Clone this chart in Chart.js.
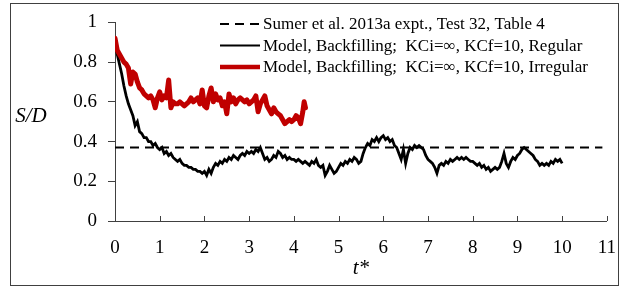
<!DOCTYPE html>
<html>
<head>
<meta charset="utf-8">
<script src="https://cdn.jsdelivr.net/npm/chart.js@4/dist/chart.umd.min.js"></script>
<style>
html,body{margin:0;padding:0;background:#fff;}
#wrap{width:624px;height:288px;position:relative;}
</style>
</head>
<body>
<div id="wrap"><canvas id="c" width="624" height="288"></canvas></div>
<script>
// ---- data ----
const labelExp = "Sumer et al. 2013a expt., Test 32, Table 4";
const labelReg = "Model, Backfilling;  KCi=\u221E, KCf=10, Regular";
const labelIrr = "Model, Backfilling;  KCi=\u221E, KCf=10, Irregular";
const xTitle = "t*";
const yTitle = "S/D";
const xTicks = [0,1,2,3,4,5,6,7,8,9,10,11];
const yTicks = [0,0.2,0.4,0.6,0.8,1];

const tExp = [0, 10.9];
const sdExp = [0.37, 0.37];

const tReg = [0.00,0.05,0.10,0.15,0.20,0.25,0.30,0.35,0.40,0.45,0.50,0.55,0.60,0.65,0.70,0.75,0.80,0.85,0.90,0.95,
1.00,1.05,1.10,1.15,1.20,1.25,1.30,1.35,1.40,1.45,1.50,1.55,1.60,1.65,1.70,1.75,1.80,1.85,1.90,1.95,
2.00,2.05,2.10,2.15,2.20,2.25,2.30,2.35,2.40,2.45,2.50,2.55,2.60,2.65,2.70,2.75,2.80,2.85,2.90,2.95,
3.00,3.05,3.10,3.15,3.20,3.25,3.30,3.35,3.40,3.45,3.50,3.55,3.60,3.65,3.70,3.75,3.80,3.85,3.90,3.95,
4.00,4.05,4.10,4.15,4.20,4.25,4.30,4.35,4.40,4.45,4.50,4.55,4.60,4.65,4.70,4.75,4.80,4.85,4.90,4.95,
5.00,5.05,5.10,5.15,5.20,5.25,5.30,5.35,5.40,5.45,5.50,5.55,5.60,5.65,5.70,5.75,5.80,5.85,5.90,5.95,
6.00,6.05,6.10,6.15,6.20,6.25,6.30,6.35,6.40,6.45,6.50,6.55,6.60,6.65,6.70,6.75,6.80,6.85,6.90,6.95,
7.00,7.05,7.10,7.15,7.20,7.25,7.30,7.35,7.40,7.45,7.50,7.55,7.60,7.65,7.70,7.75,7.80,7.85,7.90,7.95,
8.00,8.05,8.10,8.15,8.20,8.25,8.30,8.35,8.40,8.45,8.50,8.55,8.60,8.65,8.70,8.75,8.80,8.85,8.90,8.95,
9.00,9.05,9.10,9.15,9.20,9.25,9.30,9.35,9.40,9.45,9.50,9.55,9.60,9.65,9.70,9.75,9.80,9.85,9.90,9.95,
10.00];
const sdReg = [0.90,0.84,0.79,0.74,0.68,0.63,0.59,0.56,0.53,0.48,0.50,0.45,0.44,0.42,0.42,0.40,0.40,0.38,0.39,0.37,
0.36,0.37,0.34,0.35,0.33,0.34,0.32,0.31,0.30,0.31,0.29,0.28,0.28,0.27,0.27,0.26,0.26,0.25,0.25,0.24,
0.25,0.23,0.26,0.24,0.27,0.29,0.28,0.30,0.29,0.31,0.30,0.32,0.31,0.33,0.32,0.31,0.33,0.34,0.33,0.35,
0.34,0.35,0.34,0.36,0.35,0.37,0.34,0.31,0.32,0.30,0.31,0.33,0.32,0.35,0.34,0.32,0.33,0.31,0.32,0.31,
0.31,0.30,0.31,0.30,0.29,0.30,0.29,0.28,0.30,0.29,0.31,0.28,0.27,0.28,0.23,0.25,0.28,0.26,0.24,0.25,
0.27,0.29,0.28,0.30,0.29,0.31,0.30,0.32,0.31,0.29,0.30,0.34,0.37,0.39,0.38,0.41,0.40,0.42,0.40,0.42,
0.43,0.41,0.42,0.40,0.41,0.38,0.37,0.34,0.31,0.36,0.29,0.34,0.37,0.36,0.38,0.37,0.38,0.37,0.36,0.33,
0.31,0.30,0.29,0.27,0.24,0.28,0.29,0.28,0.30,0.29,0.31,0.30,0.31,0.32,0.31,0.32,0.31,0.32,0.31,0.30,
0.30,0.29,0.28,0.29,0.27,0.28,0.26,0.27,0.25,0.26,0.27,0.26,0.27,0.30,0.34,0.29,0.27,0.30,0.32,0.31,
0.33,0.34,0.36,0.37,0.36,0.35,0.34,0.33,0.31,0.30,0.28,0.29,0.28,0.29,0.28,0.30,0.29,0.31,0.30,0.31,
0.29];

const tIrr = [0.00,0.05,0.10,0.15,0.20,0.25,0.30,0.35,0.40,0.45,0.50,0.55,0.60,0.65,0.70,0.75,0.80,0.85,0.90,0.95,
1.00,1.05,1.10,1.15,1.20,1.25,1.30,1.35,1.40,1.45,1.50,1.55,1.60,1.65,1.70,1.75,1.80,1.85,1.90,1.95,
2.00,2.05,2.10,2.15,2.20,2.25,2.30,2.35,2.40,2.45,2.50,2.55,2.60,2.65,2.70,2.75,2.80,2.85,2.90,2.95,
3.00,3.05,3.10,3.15,3.20,3.25,3.30,3.35,3.40,3.45,3.50,3.55,3.60,3.65,3.70,3.75,3.80,3.85,3.90,3.95,
4.00,4.05,4.10,4.15,4.20,4.23,4.26];
const sdIrr = [0.92,0.86,0.84,0.82,0.80,0.79,0.77,0.69,0.75,0.74,0.70,0.67,0.66,0.64,0.63,0.62,0.63,0.61,0.57,0.62,
0.65,0.61,0.63,0.62,0.71,0.57,0.60,0.59,0.59,0.60,0.59,0.58,0.59,0.60,0.62,0.60,0.61,0.62,0.59,0.66,
0.58,0.57,0.63,0.67,0.60,0.64,0.61,0.62,0.58,0.60,0.54,0.64,0.60,0.62,0.59,0.61,0.62,0.61,0.60,0.61,
0.59,0.60,0.61,0.63,0.55,0.59,0.61,0.63,0.58,0.56,0.54,0.57,0.55,0.54,0.53,0.51,0.49,0.50,0.51,0.50,
0.51,0.53,0.52,0.49,0.55,0.60,0.57];

// ---- build ----
const toXY = (xs, ys) => xs.map((x, i) => ({x: x, y: ys[i]}));
const SERIF = '"Liberation Serif", "Times New Roman", "DejaVu Serif", serif';
const AXIS = '#404040';

const overlay = {
  id: 'overlay',
  beforeDraw(chart) {
    const ctx = chart.ctx;
    ctx.save();
    ctx.fillStyle = '#fff';
    ctx.fillRect(0, 0, chart.width, chart.height);
    ctx.restore();
  },
  afterDraw(chart) {
    const ctx = chart.ctx;
    const xs = chart.scales.x;
    const area = chart.chartArea;
    ctx.save();
    // inside x ticks
    ctx.strokeStyle = AXIS;
    ctx.lineWidth = 1;
    ctx.beginPath();
    xs.ticks.forEach(t => {
      const px = Math.round(xs.getPixelForValue(t.value)) + 0.5;
      ctx.moveTo(px, area.bottom);
      ctx.lineTo(px, area.bottom - 5);
    });
    ctx.stroke();
    // outer frame
    ctx.strokeStyle = '#404040';
    ctx.strokeRect(10.5, 3.5, 608, 282);
    // axis titles
    ctx.fillStyle = '#000';
    ctx.font = 'italic 21px ' + SERIF;
    ctx.textAlign = 'center';
    ctx.textBaseline = 'middle';
    ctx.fillText(yTitle, 31, 116);
    ctx.fillText(xTitle, (area.left + area.right) / 2, 268);
    // legend
    const rows = [24, 45.5, 67];
    ctx.font = '17px ' + SERIF;
    ctx.textAlign = 'left';
    chart.data.datasets.forEach((ds, i) => {
      const y = rows[ds.legendRow];
      ctx.save();
      ctx.strokeStyle = ds.borderColor;
      ctx.lineWidth = ds.legendWidth;
      ctx.setLineDash(ds.borderDash || []);
      ctx.beginPath();
      ctx.moveTo(220, y);
      ctx.lineTo(260, y);
      ctx.stroke();
      ctx.restore();
      ctx.fillStyle = '#000';
      ctx.fillText(ds.label, 263, y + 1);
    });
    ctx.restore();
  }
};

new Chart(document.getElementById('c'), {
  type: 'scatter',
  data: {
    datasets: [
      { label: labelIrr, data: toXY(tIrr, sdIrr), showLine: true, borderColor: '#c00000', borderWidth: 5,
        pointRadius: 0, legendRow: 2, legendWidth: 4.5, borderJoinStyle: 'round', borderCapStyle: 'round' },
      { label: labelReg, data: toXY(tReg, sdReg), showLine: true, borderColor: '#000', borderWidth: 2.8,
        pointRadius: 0, legendRow: 1, legendWidth: 2 },
      { label: labelExp, data: toXY(tExp, sdExp), showLine: true, borderColor: '#000', borderWidth: 2.2,
        borderDash: [9, 6], pointRadius: 0, legendRow: 0, legendWidth: 2.2 }
    ]
  },
  options: {
    responsive: false,
    animation: false,
    events: [],
    layout: { padding: { top: 22, right: 16, left: 0, bottom: 0 } },
    plugins: { legend: { display: false }, tooltip: { enabled: false } },
    scales: {
      x: {
        type: 'linear', min: 0, max: 11,
        afterBuildTicks: s => { s.ticks = xTicks.map(v => ({value: v})); },
        ticks: { color: '#000', font: { family: SERIF, size: 19 }, padding: 8, maxRotation: 0, autoSkip: false },
        grid: { display: false },
        border: { display: true, color: AXIS, width: 1 },
        afterFit: s => { s.height = 67; }
      },
      y: {
        type: 'linear', min: 0, max: 1,
        afterBuildTicks: s => { s.ticks = yTicks.map(v => ({value: v})); },
        ticks: { color: '#000', font: { family: SERIF, size: 19 }, padding: 11,
          callback: v => String(v) },
        grid: { display: true, drawOnChartArea: false, drawTicks: true, tickLength: 7, color: AXIS, lineWidth: 1 },
        border: { display: true, color: AXIS, width: 1 },
        afterFit: s => { s.width = 115; }
      }
    }
  },
  plugins: [overlay]
});
</script>
</body>
</html>
